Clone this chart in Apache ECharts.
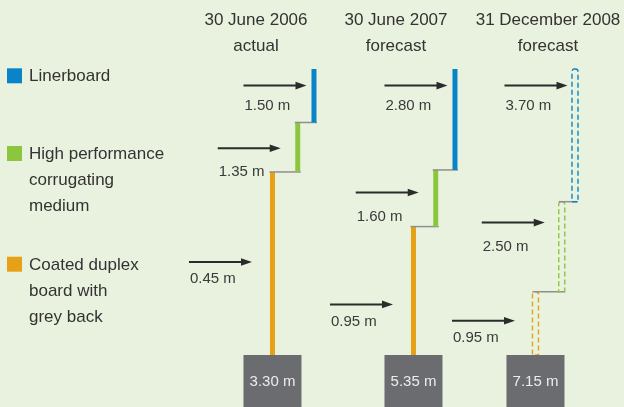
<!DOCTYPE html>
<html>
<head>
<meta charset="utf-8">
<script src="https://cdn.jsdelivr.net/npm/echarts@6/dist/echarts.min.js"></script>
<style>
  html, body { margin: 0; padding: 0; background: #e9f2de; }
  #chart { width: 624px; height: 407px; }
</style>
</head>
<body>
<div id="chart"></div>
<script>
// ---------- data ----------
const dates = ['30 June 2006', '30 June 2007', '31 December 2008'];
const status = ['actual', 'forecast', 'forecast'];
const materials = ['Coated duplex\nboard with\ngrey back', 'High performance\ncorrugating\nmedium', 'Linerboard'];
// capacity added per product (m)
const coatedAdd = [0.45, 0.95, 0.95];
const hpcmAdd = [1.35, 1.60, 2.50];
const linerAdd = [1.50, 2.80, 3.70];
const totals = [3.30, 5.35, 7.15];
// schematic step lengths as drawn (each column = 100 diagram units)
const coatedLen = [64.0, 44.9, 22.1];
const hpcmLen = [17.3, 19.8, 31.5];
const linerLen = [18.7, 35.3, 46.4];
// diagram level where each arrow points (same diagram units)
const coatedArrow = [32.5, 17.7, 12.0];
const hpcmArrow = [72.3, 56.8, 46.3];
const linerArrow = [94.2, 94.2, 94.2];

// ---------- styles / layout ----------
const FONT = "'Liberation Sans', Arial, Helvetica, sans-serif";
const colors = ['#e6a117', '#8cc63f', '#0a84c8'];
const dashedCol = [false, false, true];
const gridLeft = [262.1, 403.1, 525.6];
const gridWidth = [62.25, 62.25, 59.25];
const middleNudge = [4.5, 1.5, 6.5];   // visual step offset of the middle riser
const headerX = [256, 396, 548];
const arrowGap = [17.5, 14, 4.5];
const labelDy = [17, 24, 20];
const legendY = [256.7, 146, 68.3];

const chart = echarts.init(document.getElementById('chart'), null, { renderer: 'canvas' });

const grids = [], xAxes = [], yAxes = [], series = [];
dates.forEach((d, c) => {
  grids.push({ left: gridLeft[c], width: gridWidth[c], top: 69, bottom: 52 });
  xAxes.push({ gridIndex: c, type: 'category', data: materials, show: false, boundaryGap: true });
  yAxes.push({ gridIndex: c, type: 'value', min: 0, max: 100, show: false });
  const lens = [coatedLen[c], hpcmLen[c], linerLen[c]];
  const adds = [coatedAdd[c], hpcmAdd[c], linerAdd[c]];
  const arrows = [coatedArrow[c], hpcmArrow[c], linerArrow[c]];
  let acc = 0;
  const data = lens.map((len, i) => {
    const row = [i, acc, acc + len, adds[i], arrows[i], totals[c]];
    acc += len;
    return row;
  });
  const nudge = (i) => (i === 1 ? middleNudge[c] : 0);
  series.push({
    type: 'custom',
    xAxisIndex: c,
    yAxisIndex: c,
    clip: false,
    silent: true,
    data: data,
    renderItem: function (params, api) {
      const i = api.value(0);
      const lo = api.coord([i, api.value(1)]);
      const hi = api.coord([i, api.value(2)]);
      const x = lo[0] + nudge(i);
      const dashed = dashedCol[c];
      const ch = [];
      if (i > 0) {
        const px = api.coord([i - 1, 0])[0] + nudge(i - 1);
        ch.push({ type: 'line', shape: { x1: px - 3, y1: lo[1], x2: x + 3, y2: lo[1] },
          style: { stroke: '#8f8f8f', lineWidth: 1.5 } });
      }
      if (dashed) {
        ch.push({ type: 'rect', shape: { x: x - 3, y: hi[1], width: 6, height: lo[1] - hi[1], r: [2.5, 2.5, 0, 0] },
          style: { fill: 'none', stroke: colors[i], lineWidth: 1.4, lineDash: [5, 3] } });
      } else {
        ch.push({ type: 'rect', shape: { x: x - 2.5, y: hi[1], width: 5, height: lo[1] - hi[1] },
          style: { fill: colors[i] } });
      }
      const ay = api.coord([i, api.value(4)])[1];
      const tip = x - 3 - arrowGap[i];
      ch.push({ type: 'line', shape: { x1: tip - 63, y1: ay, x2: tip - 9, y2: ay },
        style: { stroke: '#2b2b2b', lineWidth: 2 } });
      ch.push({ type: 'polygon', shape: { points: [[tip - 11, ay - 3.8], [tip, ay], [tip - 11, ay + 3.8]] },
        style: { fill: '#2b2b2b' } });
      ch.push({ type: 'text', x: tip - 62, y: ay + labelDy[i],
        style: { text: api.value(3).toFixed(2) + ' m', font: '15px ' + FONT, fill: '#3a3a3a',
          textAlign: 'left', textVerticalAlign: 'middle' } });
      if (i === 0) {
        ch.push({ type: 'rect', shape: { x: x - 29, y: lo[1], width: 58, height: 53 },
          style: { fill: '#6b6c70' } });
        ch.push({ type: 'text', x: x, y: lo[1] + 27,
          style: { text: api.value(5).toFixed(2) + ' m', font: '15px ' + FONT, fill: '#ececec',
            textAlign: 'center', textVerticalAlign: 'middle' } });
      }
      return { type: 'group', children: ch };
    }
  });
});

const graphics = [];
dates.forEach((d, c) => {
  graphics.push({ type: 'text', x: headerX[c], y: 7,
    style: { text: d + '\n' + status[c], font: '17px ' + FONT, fill: '#333333',
      textAlign: 'center', textVerticalAlign: 'top', lineHeight: 26 } });
});
materials.forEach((m, i) => {
  graphics.push({ type: 'rect', x: 7, y: legendY[i], shape: { width: 15, height: 15 }, style: { fill: colors[i] } });
  graphics.push({ type: 'text', x: 29, y: legendY[i] - 4.5,
    style: { text: m, font: '17px ' + FONT, fill: '#333333', textVerticalAlign: 'top', lineHeight: 26 } });
});

chart.setOption({
  backgroundColor: '#e9f2de',
  animation: false,
  grid: grids,
  xAxis: xAxes,
  yAxis: yAxes,
  series: series,
  graphic: graphics
});
</script>
</body>
</html>
